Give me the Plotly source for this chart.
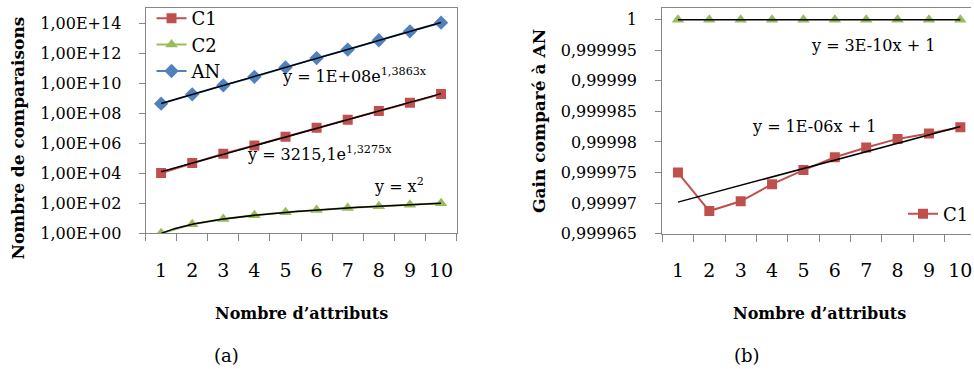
import numpy as np
import plotly.graph_objects as go

W, H = 974, 369

# ---------------- data ----------------
attributes = [1, 2, 3, 4, 5, 6, 7, 8, 9, 10]
c1_comparisons = [1.05e4, 4.8e4, 2.0e5, 7.1e5, 2.7e6, 1.05e7, 3.7e7, 1.4e8, 5.0e8, 1.86e9]
c2_comparisons = [1, 4, 9, 16, 25, 36, 49, 64, 81, 100]
an_comparisons = [4.3e8, 1.8e9, 7.1e9, 2.6e10, 1.1e11, 4.6e11, 1.7e12, 7.1e12, 2.8e13, 1.05e14]

c1_gain = [0.999975, 0.9999687, 0.9999703, 0.9999731, 0.9999754,
           0.9999775, 0.9999791, 0.9999805, 0.9999814, 0.9999824]
c2_gain = [1.0, 1.0, 1.0, 1.0, 1.0, 1.0, 1.0, 1.0, 1.0, 1.0]

left_ytick_vals = [1e0, 1e2, 1e4, 1e6, 1e8, 1e10, 1e12, 1e14]
left_ytick_text = ["1,00E+00", "1,00E+02", "1,00E+04", "1,00E+06",
                   "1,00E+08", "1,00E+10", "1,00E+12", "1,00E+14"]
right_ytick_vals = [0.999965, 0.99997, 0.999975, 0.99998, 0.999985, 0.99999, 0.999995, 1.0]
right_ytick_text = ["0,999965", "0,99997", "0,999975", "0,99998",
                    "0,999985", "0,99999", "0,999995", "1"]

RED = "#C0504D"
GREEN = "#9BBB59"
BLUE = "#4F81BD"
GREY = "#868686"
FONT = "DejaVu Serif"


def px(x):
    return x / W


def py(y):
    return 1 - y / H


# ---------------- trendlines (fits from the data) ----------------
xs = np.array(attributes, dtype=float)
xd = np.linspace(1, 10, 200)
b1, a1 = np.polyfit(xs, np.log(c1_comparisons), 1)
trend_c1 = np.exp(a1 + b1 * xd)
bA, aA = np.polyfit(xs, np.log(an_comparisons), 1)
trend_an = np.exp(aA + bA * xd)
bp, ap = np.polyfit(np.log(xs), np.log(c2_comparisons), 1)
trend_c2 = np.exp(ap) * xd ** bp
sl, ic = np.polyfit(xs, np.array(c1_gain) - 1.0, 1)
trend_gain = 1.0 + ic + sl * xs
trend_gain2 = np.array(c2_gain)

fig = go.Figure()

# left chart series
fig.add_trace(go.Scatter(x=attributes, y=c1_comparisons, name="C1", mode="lines+markers",
                         line=dict(color=RED, width=2), marker=dict(symbol="square", size=10, color=RED),
                         xaxis="x", yaxis="y", legend="legend"))
fig.add_trace(go.Scatter(x=attributes, y=c2_comparisons, name="C2", mode="lines+markers",
                         line=dict(color=GREEN, width=2),
                         marker=dict(symbol="triangle-up", size=11, color=GREEN),
                         xaxis="x", yaxis="y", legend="legend"))
fig.add_trace(go.Scatter(x=attributes, y=an_comparisons, name="AN", mode="lines+markers",
                         line=dict(color=BLUE, width=2), marker=dict(symbol="diamond", size=11, color=BLUE),
                         xaxis="x", yaxis="y", legend="legend"))
for t in (trend_c1, trend_an, trend_c2):
    fig.add_trace(go.Scatter(x=xd, y=t, mode="lines", line=dict(color="black", width=1.5),
                             showlegend=False, hoverinfo="skip", xaxis="x", yaxis="y"))

# right chart series
fig.add_trace(go.Scatter(x=attributes, y=c1_gain, name="C1", mode="lines+markers",
                         line=dict(color=RED, width=2), marker=dict(symbol="square", size=10, color=RED),
                         xaxis="x2", yaxis="y2", legend="legend2"))
fig.add_trace(go.Scatter(x=attributes, y=c2_gain, name="C2", mode="markers",
                         marker=dict(symbol="triangle-up", size=11, color=GREEN),
                         xaxis="x2", yaxis="y2", showlegend=False, cliponaxis=False))
fig.add_trace(go.Scatter(x=attributes, y=trend_gain, mode="lines", line=dict(color="black", width=1.5),
                         showlegend=False, hoverinfo="skip", xaxis="x2", yaxis="y2"))
fig.add_trace(go.Scatter(x=attributes, y=trend_gain2, mode="lines", line=dict(color="black", width=1.5),
                         showlegend=False, hoverinfo="skip", xaxis="x2", yaxis="y2"))

boundaries = [i + 0.5 for i in range(0, 11)]

common_x = dict(tickmode="array", tickvals=attributes, ticktext=[str(a) for a in attributes],
                ticks="", showline=True, linecolor=GREY, linewidth=1, showgrid=False, zeroline=False,
                tickfont=dict(family=FONT, size=19, color="black"), ticklabelstandoff=20,
                ticklabeloverflow="allow",
                minor=dict(tickvals=boundaries, ticks="outside", ticklen=7, tickcolor=GREY, tickwidth=1,
                           showgrid=False),
                automargin=False, fixedrange=True)

fig.update_layout(
    width=W, height=H, template="none",
    paper_bgcolor="white", plot_bgcolor="white",
    margin=dict(l=0, r=0, t=0, b=0),
    font=dict(family=FONT, color="black"),
    xaxis=dict(domain=[px(146), px(458)], range=[0.5, 10.5], anchor="y", mirror=True, **common_x),
    yaxis=dict(domain=[py(233), py(7)], type="log", range=[0, 15], anchor="x",
               tickmode="array", tickvals=left_ytick_vals, ticktext=left_ytick_text,
               ticks="outside", ticklen=6, tickcolor=GREY, showline=True, linecolor=GREY, mirror=True,
               showgrid=False, zeroline=False, tickfont=dict(family=FONT, size=16, color="black"),
               ticklabelstandoff=14, automargin=False),
    xaxis2=dict(domain=[px(664.3), 1.0], range=[0.5, 10.34], anchor="y2", mirror=True, **common_x),
    yaxis2=dict(domain=[py(233.3), py(6.7)], range=[0.999965, 1.00000196], anchor="x2",
                tickmode="array", tickvals=right_ytick_vals, ticktext=right_ytick_text,
                ticks="outside", ticklen=6, tickcolor=GREY, showline=True, linecolor=GREY, mirror=False,
                showgrid=False, zeroline=False, tickfont=dict(family=FONT, size=16, color="black"),
                ticklabelstandoff=15, automargin=False),
    legend=dict(x=px(152), y=py(-1), xanchor="left", yanchor="top", bgcolor="rgba(0,0,0,0)",
                font=dict(family=FONT, size=18, color="black"), tracegroupgap=0, itemwidth=30),
    legend2=dict(x=px(906), y=py(195), xanchor="left", yanchor="top", bgcolor="rgba(0,0,0,0)",
                 font=dict(family=FONT, size=18, color="black"), itemwidth=30),
    showlegend=True,
)

ann = []
ann.append(dict(text="<b>Nombre de comparaisons</b>", x=px(18), y=py(137), textangle=-90,
                font=dict(family=FONT, size=17)))
ann.append(dict(text="<b>Gain comparé à AN</b>", x=px(540), y=py(120), textangle=-90,
                font=dict(family=FONT, size=17)))
ann.append(dict(text="<b>Nombre d’attributs</b>", x=px(302), y=py(313), font=dict(family=FONT, size=16)))
ann.append(dict(text="<b>Nombre d’attributs</b>", x=px(822), y=py(313), font=dict(family=FONT, size=16)))
ann.append(dict(text="(a)", x=px(227), y=py(355), font=dict(family=FONT, size=18)))
ann.append(dict(text="(b)", x=px(749), y=py(355), font=dict(family=FONT, size=18)))
ann.append(dict(text="y = 1E+08e<sup>1,3863x</sup>", x=px(281), y=py(75), xanchor="left",
                font=dict(family=FONT, size=16)))
ann.append(dict(text="y = 3215,1e<sup>1,3275x</sup>", x=px(246), y=py(153), xanchor="left",
                font=dict(family=FONT, size=16)))
ann.append(dict(text="y = x<sup>2</sup>", x=px(373), y=py(185), xanchor="left",
                font=dict(family=FONT, size=16)))
ann.append(dict(text="y = 3E-10x + 1", x=px(812), y=py(45), xanchor="left",
                font=dict(family=FONT, size=16)))
ann.append(dict(text="y = 1E-06x + 1", x=px(752), y=py(126), xanchor="left",
                font=dict(family=FONT, size=16)))
for a in ann:
    a.update(xref="paper", yref="paper", showarrow=False)
    a.setdefault("xanchor", "center")
    a.setdefault("yanchor", "middle")
fig.update_layout(annotations=ann)

fig.write_html("out.html", config={"displayModeBar": False},
               post_script="document.body.style.margin='0';")
